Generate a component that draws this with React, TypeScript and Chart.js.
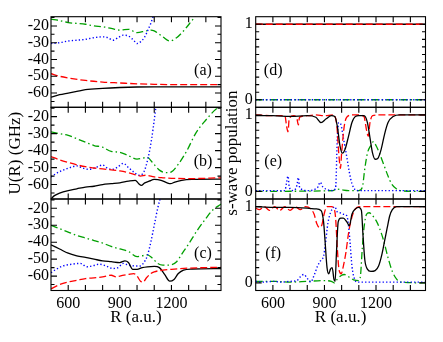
import React, { useEffect, useRef } from 'react';
import { Chart, registerables } from 'chart.js';

Chart.register(...registerables);

type Pt = [number, number];

// ---- axis ranges & tick marks ----
const R_MIN = 500;
const R_MAX = 1488;
const xTickLabels = [600, 900, 1200];
const xTickMarks = [600, 700, 800, 900, 1000, 1100, 1200, 1300, 1400];
const uMin = -68.5;
const uMax = -14.5;
const uMajor = [-60, -50, -40, -30, -20];
const uMinor = [-65, -55, -45, -35, -25, -15];
const pMin = -0.1;
const pMax = 1.1;
const pMajor = [0, 1];
const pMinor = [0.1, 0.2, 0.3, 0.4, 0.5, 0.6, 0.7, 0.8, 0.9];

// ---- panel (a): U(R) ----
const aBlack: Pt[] = [[500,-62.5],[550,-61],[600,-60],[650,-59],[700,-58],[800,-57.2],[900,-56.7],[1000,-56.4],[1100,-56.3],[1490,-56.3]];
const aRed: Pt[] = [[500,-48.5],[550,-50],[600,-51],[700,-52.5],[800,-53.5],[900,-54],[1000,-54.5],[1100,-54.8],[1200,-55],[1490,-55]];
const aGreen: Pt[] = [[500,-16],[550,-16.8],[600,-18],[650,-18.5],[700,-19],[750,-20],[800,-20.5],[850,-21.5],[900,-22.5],[950,-22],[1000,-24],[1050,-23],[1080,-22.5],[1100,-23],[1150,-26.5],[1190,-29],[1230,-27],[1270,-23],[1310,-18],[1340,-14]];
const aBlue: Pt[] = [[500,-30.5],[550,-30],[600,-29],[650,-28.5],[700,-28],[750,-27],[800,-26.5],[830,-27],[860,-28.5],[890,-27],[920,-25.5],[950,-26],[980,-28.5],[1000,-30.5],[1020,-29.5],[1045,-26.5],[1065,-22],[1080,-18.5],[1095,-14]];

// ---- panel (b): U(R) ----
const bBlack: Pt[] = [[500,-68.5],[520,-66.5],[550,-65],[600,-63.5],[650,-62.5],[700,-61.5],[750,-61],[800,-60],[850,-59.5],[900,-59],[950,-58],[990,-57.5],[1010,-59.5],[1025,-60.5],[1045,-59],[1070,-58],[1100,-57],[1140,-57.5],[1175,-59],[1195,-59.5],[1220,-58.5],[1260,-57.5],[1320,-57],[1490,-56.8]];
const bRed: Pt[] = [[500,-43.5],[550,-45.5],[600,-47],[700,-49.5],[800,-50.8],[900,-52],[950,-53],[1000,-54.5],[1020,-55],[1050,-54.5],[1100,-55.5],[1150,-56],[1200,-56.3],[1300,-56.5],[1490,-56]];
const bGreen: Pt[] = [[500,-29],[550,-30],[600,-31],[650,-33],[700,-35],[750,-37],[800,-38],[850,-40.5],[900,-41],[950,-43],[1000,-45],[1030,-44.5],[1060,-44],[1090,-47],[1130,-51.5],[1170,-53],[1200,-52.5],[1240,-48],[1290,-40],[1340,-30],[1400,-22],[1460,-15.5],[1490,-14]];
const bBlue: Pt[] = [[500,-55.5],[530,-53.5],[570,-51.5],[610,-50],[650,-49],[690,-50.5],[720,-51],[760,-50],[800,-48.5],[830,-50.5],[860,-51],[890,-49.5],[920,-47.5],[950,-50],[980,-52.5],[1010,-54.5],[1040,-52.5],[1065,-44],[1085,-33],[1100,-22],[1110,-14]];

// ---- panel (c): U(R) ----
const cBlack: Pt[] = [[500,-41.5],[550,-44],[600,-46.5],[650,-48],[700,-49],[750,-50],[800,-51],[850,-51.5],[900,-52],[930,-51],[950,-52],[975,-56],[1000,-56],[1030,-55],[1060,-54.5],[1100,-54.3],[1130,-55],[1160,-59],[1190,-63],[1215,-62],[1240,-58.5],[1270,-56.5],[1320,-55.8],[1490,-55.5]];
const cRed: Pt[] = [[500,-67.5],[550,-65],[600,-63.5],[650,-62.5],[700,-61.5],[750,-61],[800,-60.5],[850,-59.5],[880,-60.5],[900,-60],[950,-59],[980,-58.5],[1000,-60],[1020,-63],[1035,-63.5],[1055,-61],[1080,-58.5],[1100,-57.5],[1150,-56.5],[1200,-56],[1300,-55.3],[1490,-54.8]];
const cGreen: Pt[] = [[500,-30],[550,-32],[600,-34],[650,-36],[700,-37.5],[750,-39],[800,-40.5],[850,-42.5],[900,-44],[950,-45.5],[1000,-48.5],[1030,-48],[1060,-47.5],[1090,-49.5],[1120,-52.5],[1150,-53.5],[1190,-53.5],[1230,-51.5],[1260,-47],[1300,-41],[1350,-33],[1400,-26],[1440,-21],[1490,-17.5]];
const cBlue: Pt[] = [[500,-58],[530,-56],[570,-54],[620,-53],[670,-52.5],[710,-54.5],[740,-54],[780,-53],[820,-54],[860,-55.5],[890,-55],[920,-52.5],[950,-53.5],[990,-54],[1020,-54],[1040,-52],[1060,-48],[1080,-40],[1100,-30],[1120,-20],[1135,-14]];

// ---- panel (d): s-wave population ----
const dBlack: Pt[] = [[500,1],[1490,1]];
const dRed: Pt[] = [[500,1],[1490,1]];
const dGreen: Pt[] = [[500,0],[1490,0]];
const dBlue: Pt[] = [[500,0],[1490,0]];

// ---- panel (e): s-wave population ----
const eBlack: Pt[] = [[500,0.99],[600,0.99],[700,0.98],[800,0.99],[850,0.97],[880,0.9],[910,0.95],[940,0.99],[960,0.98],[975,0.85],[990,0.6],[1005,0.5],[1020,0.55],[1040,0.72],[1060,0.9],[1080,0.98],[1100,0.99],[1130,0.99],[1150,0.9],[1165,0.7],[1180,0.5],[1195,0.42],[1210,0.43],[1230,0.55],[1250,0.75],[1270,0.9],[1300,0.98],[1340,1],[1490,1]];
const eRed: Pt[] = [[500,1],[600,0.99],[670,0.99],[680,0.85],[688,0.78],[695,0.95],[720,0.99],[740,0.95],[748,0.87],[755,0.97],[800,0.99],[850,1],[900,0.99],[950,1],[970,0.9],[985,0.45],[993,0.3],[1000,0.5],[1015,0.85],[1030,0.97],[1060,1],[1100,1],[1130,0.98],[1145,0.8],[1155,0.72],[1165,0.9],[1180,0.99],[1220,1],[1490,1]];
const eBlue: Pt[] = [[500,0.01],[600,0.01],[670,0.01],[680,0.12],[688,0.2],[696,0.05],[720,0.01],[740,0.08],[748,0.18],[756,0.05],[800,0.01],[860,0.05],[875,0.12],[890,0.06],[920,0.02],[950,0.01],[965,0.05],[975,0.7],[983,0.9],[995,0.88],[1010,0.7],[1030,0.45],[1045,0.25],[1060,0.1],[1080,0.02],[1100,0.01],[1490,0.01]];
const eGreen: Pt[] = [[500,0],[950,0.01],[970,0.03],[1000,0.02],[1040,0.01],[1100,0.01],[1120,0.05],[1135,0.3],[1150,0.5],[1170,0.6],[1185,0.65],[1200,0.6],[1220,0.5],[1245,0.35],[1270,0.2],[1290,0.1],[1320,0.03],[1360,0.005],[1490,0]];

// ---- panel (f): s-wave population ----
const fBlack: Pt[] = [[500,1],[600,0.99],[700,0.99],[800,0.98],[850,0.97],[880,0.95],[895,0.8],[905,0.5],[915,0.2],[925,0.12],[935,0.18],[945,0.2],[955,0.05],[962,0.02],[970,0.4],[980,0.8],[995,0.85],[1010,0.85],[1030,0.8],[1045,0.75],[1060,0.9],[1080,0.97],[1100,0.99],[1115,0.95],[1125,0.6],[1135,0.3],[1150,0.18],[1170,0.15],[1195,0.16],[1215,0.22],[1235,0.38],[1250,0.55],[1265,0.72],[1280,0.88],[1295,0.96],[1320,1],[1490,1]];
const fRed: Pt[] = [[500,0.98],[520,0.96],[550,1],[580,0.95],[610,1],[640,0.95],[670,1],[700,0.95],[730,1],[760,0.96],[790,1],[820,0.97],[840,0.9],[855,0.78],[870,0.73],[885,0.76],[900,0.92],[915,1],[940,1],[955,0.98],[965,0.85],[975,0.45],[985,0.17],[998,0.12],[1010,0.22],[1025,0.4],[1040,0.65],[1055,0.82],[1070,0.93],[1090,0.99],[1110,1],[1490,1]];
const fBlue: Pt[] = [[500,0.02],[550,0.01],[600,0.02],[650,0.01],[700,0.02],[740,0.03],[760,0.08],[780,0.11],[800,0.06],[820,0.01],[840,0.1],[860,0.22],[880,0.3],[895,0.35],[905,0.5],[920,0.78],[935,0.92],[950,0.98],[960,1],[975,0.93],[990,0.92],[1010,0.9],[1030,0.88],[1040,0.75],[1050,0.5],[1060,0.22],[1075,0.05],[1090,0.01],[1490,0.01]];
const fGreen: Pt[] = [[500,0.02],[600,0.02],[700,0.01],[800,0.02],[900,0.03],[940,0.02],[958,0],[975,0.05],[1000,0.1],[1015,0.11],[1040,0.08],[1070,0.04],[1100,0.03],[1110,0.1],[1120,0.45],[1130,0.72],[1145,0.9],[1160,0.92],[1180,0.88],[1200,0.82],[1220,0.72],[1245,0.55],[1270,0.33],[1295,0.15],[1320,0.05],[1345,0.01],[1490,0]];

// ---- layout (pixels) ----
const W = 443;
const H = 342;
const colLeft = [51, 255.7];
const colRight = [221, 425.5];
const colPadLeft = [5.8, 222.8];
const rowTop = [16.7, 107.3, 199];
const rowBottom = [107.3, 199, 290.5];
const xAxisBottom = 327.5;
const FONT = "'Liberation Serif', 'Times New Roman', serif";

type Series = { data: Pt[]; color: string; dash: number[]; width: number };
const style = {
  black: { color: '#000000', dash: [] as number[], width: 1.3 },
  red: { color: '#ff0000', dash: [7, 3], width: 1.3 },
  blue: { color: '#0000ff', dash: [1.3, 2.2], width: 1.4 },
  green: { color: '#00a000', dash: [7, 3, 1.5, 3], width: 1.3 },
};
const mk = (data: Pt[], s: { color: string; dash: number[]; width: number }): Series => ({ data, ...s });

type Panel = { tag: string; col: number; row: number; kind: 'U' | 'P'; yTitle?: string; series: Series[] };
const panels: Panel[] = [
  { tag: '(a)', col: 0, row: 0, kind: 'U', series: [mk(aRed, style.red), mk(aBlack, style.black), mk(aBlue, style.blue), mk(aGreen, style.green)] },
  { tag: '(b)', col: 0, row: 1, kind: 'U', yTitle: 'U(R) (GHz)', series: [mk(bRed, style.red), mk(bBlack, style.black), mk(bBlue, style.blue), mk(bGreen, style.green)] },
  { tag: '(c)', col: 0, row: 2, kind: 'U', series: [mk(cRed, style.red), mk(cBlack, style.black), mk(cBlue, style.blue), mk(cGreen, style.green)] },
  { tag: '(d)', col: 1, row: 0, kind: 'P', series: [mk(dRed, style.red), mk(dBlack, style.black), mk(dBlue, style.blue), mk(dGreen, style.green)] },
  { tag: '(e)', col: 1, row: 1, kind: 'P', yTitle: 's-wave population', series: [mk(eBlack, style.black), mk(eRed, style.red), mk(eBlue, style.blue), mk(eGreen, style.green)] },
  { tag: '(f)', col: 1, row: 2, kind: 'P', series: [mk(fBlack, style.black), mk(fRed, style.red), mk(fBlue, style.blue), mk(fGreen, style.green)] },
];

const framePlugin = {
  id: 'frameTicks',
  afterDatasetsDraw(chart: any, _args: any, opts: any) {
    const { ctx, chartArea: a, scales } = chart;
    const xs = scales.x;
    const ys = scales.y;
    ctx.save();
    ctx.strokeStyle = '#000';
    ctx.lineWidth = 1.1;
    ctx.strokeRect(a.left, a.top, a.right - a.left, a.bottom - a.top);
    ctx.beginPath();
    for (const v of xTickMarks) {
      const px = xs.getPixelForValue(v);
      ctx.moveTo(px, a.bottom); ctx.lineTo(px, a.bottom - 5.5);
      ctx.moveTo(px, a.top); ctx.lineTo(px, a.top + 5.5);
    }
    const major: number[] = opts.kind === 'U' ? uMajor : pMajor;
    const minor: number[] = opts.kind === 'U' ? uMinor : pMinor;
    for (const v of major) {
      const py = ys.getPixelForValue(v);
      ctx.moveTo(a.left, py); ctx.lineTo(a.left + 6, py);
      ctx.moveTo(a.right, py); ctx.lineTo(a.right - 6, py);
    }
    for (const v of minor) {
      const py = ys.getPixelForValue(v);
      ctx.moveTo(a.left, py); ctx.lineTo(a.left + 3.5, py);
      ctx.moveTo(a.right, py); ctx.lineTo(a.right - 3.5, py);
    }
    ctx.stroke();
    ctx.fillStyle = '#000';
    ctx.font = `16px ${FONT}`;
    ctx.textAlign = 'center';
    ctx.textBaseline = 'middle';
    const lx = opts.col === 0 ? a.right - 18 : a.left + 17.5;
    const ly = a.top + 54.5;
    ctx.fillText(opts.tag, lx, ly);
    ctx.restore();
  },
};

function PanelChart({ p }: { p: Panel }) {
  const ref = useRef<HTMLCanvasElement | null>(null);
  useEffect(() => {
    const canvas = ref.current;
    if (!canvas) return;
    const isBottom = p.row === 2;
    const left = colLeft[p.col];
    const padL = colPadLeft[p.col];
    const top = rowTop[p.row];
    const bottom = rowBottom[p.row];
    const padBottom = isBottom ? H - xAxisBottom : H - bottom;
    const yLabels = p.kind === 'U' ? uMajor : pMajor;
    const chart = new Chart(canvas, {
      type: 'line',
      data: {
        datasets: p.series.map((s) => ({
          data: s.data.map(([x, y]) => ({ x, y })),
          borderColor: s.color,
          borderWidth: s.width,
          borderDash: s.dash,
          pointRadius: 0,
          fill: false,
          cubicInterpolationMode: 'monotone' as const,
        })),
      },
      options: {
        responsive: false,
        animation: false,
        devicePixelRatio: 1,
        events: [],
        layout: { padding: { left: padL, top, right: W - colRight[p.col], bottom: padBottom } },
        plugins: {
          legend: { display: false },
          tooltip: { enabled: false },
          frameTicks: { kind: p.kind, tag: p.tag, col: p.col },
        } as any,
        scales: {
          x: {
            type: 'linear',
            min: R_MIN,
            max: R_MAX,
            display: isBottom,
            grid: { display: false, drawTicks: false },
            border: { display: false },
            ticks: {
              autoSkip: false,
              maxRotation: 0,
              padding: 4,
              color: '#000',
              font: { family: FONT, size: 16 },
              callback: (v: any) => String(v),
            },
            afterBuildTicks: (s: any) => {
              s.ticks = xTickLabels.map((v) => ({ value: v }));
            },
            title: { display: isBottom, text: 'R (a.u.)', color: '#000', font: { family: FONT, size: 17 }, padding: 0 },
            afterFit: (s: any) => {
              if (isBottom) s.height = xAxisBottom - rowBottom[2];
            },
          },
          y: {
            type: 'linear',
            min: p.kind === 'U' ? uMin : pMin,
            max: p.kind === 'U' ? uMax : pMax,
            grid: { display: false, drawTicks: false },
            border: { display: false },
            ticks: {
              autoSkip: false,
              padding: p.col === 0 ? 2 : 3,
              color: '#000',
              font: { family: FONT, size: 16 },
              callback: (v: any) => String(v),
            },
            afterBuildTicks: (s: any) => {
              s.ticks = yLabels.map((v) => ({ value: v }));
            },
            title: { display: !!p.yTitle, text: p.yTitle || '', color: '#000', font: { family: FONT, size: 17 }, padding: 0 },
            afterFit: (s: any) => {
              s.width = left - padL;
              s.paddingTop = 0; s.paddingBottom = 0;
            },
          },
        },
      } as any,
      plugins: [framePlugin],
    });
    return () => chart.destroy();
  }, [p]);
  return (
    <canvas ref={ref} width={W} height={H} style={{ position: 'absolute', left: 0, top: 0, width: W, height: H }} />
  );
}

export default function App() {
  return (
    <div style={{ position: 'absolute', left: 0, top: 0, width: W, height: H, background: '#fff', overflow: 'hidden' }}>
      {panels.map((p) => (
        <PanelChart key={p.tag} p={p} />
      ))}
    </div>
  );
}
